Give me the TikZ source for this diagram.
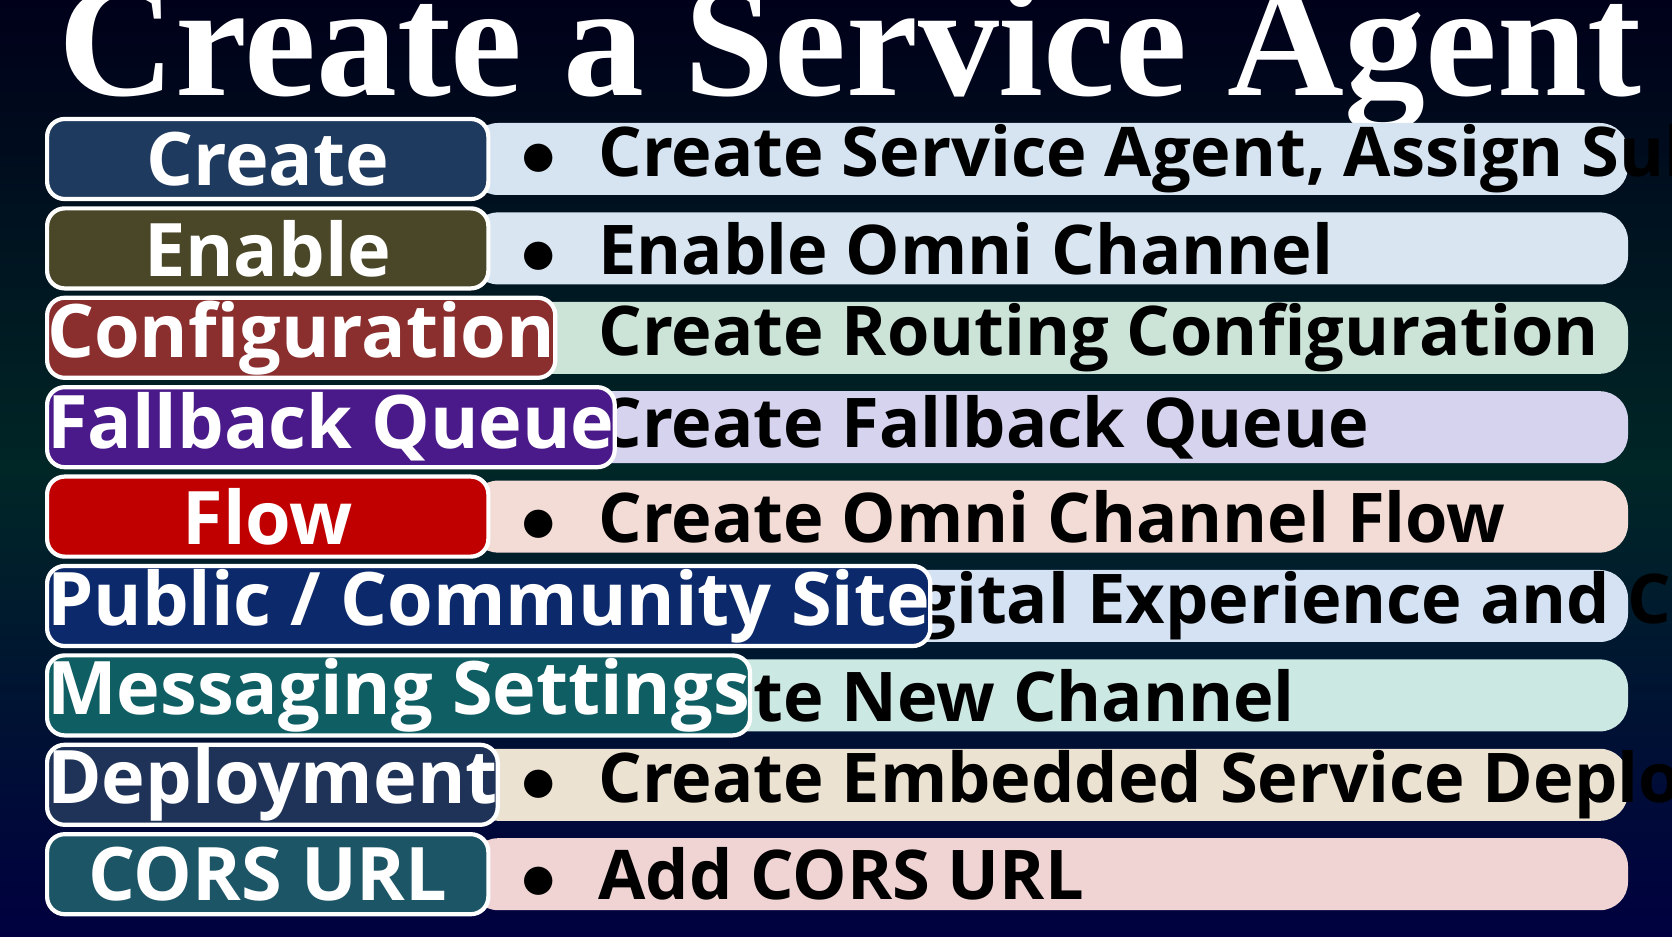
\documentclass[tikz,border=0pt]{standalone}
\usepackage{fontspec}
\setmainfont{Open Sans}
\newfontfamily\titlefont{Liberation Serif}
\begin{document}
\begin{tikzpicture}[x=0.01cm,y=-0.01cm,
  lab/.style={draw=white,line width=1.2pt,rounded corners=5pt,minimum width=4.41cm,minimum height=0.8cm,anchor=west,text=white,font=\fontsize{21}{24}\selectfont\bfseries,inner sep=0pt},
  desc/.style={anchor=west,text=black,font=\fontsize{19.5}{22}\selectfont\bfseries,inner sep=0pt,align=left}]
\shade[top color=black!90!blue,bottom color=blue!25!black,middle color=black!85!cyan] (0,0) rectangle (1672,937);
\useasboundingbox (0,0) rectangle (1672,937);
\node[font=\titlefont\fontsize{46}{50}\selectfont\bfseries,text=white] (title) at (850,57) {Create a Service Agent};
\foreach \i/\t/\d/\c/\l in {
 0/{Create}/{Create Service Agent, Assign Subagent, Actions, Add Connection - Messaging}/1F3A5F/D6E4F2,
 1/{Enable}/{Enable Omni Channel}/4A4628/D9E6F2,
 2/{Configuration}/{Create Routing Configuration}/8B2E2E/CCE4D8,
 3/{Fallback Queue}/{Create Fallback Queue}/4B1A8A/D6D3EE,
 4/{Flow}/{Create Omni Channel Flow}/C00000/F4DCD6,
 5/{Public / Community Site}/{Enable Digital Experience and Create Community Site}/0C2A6B/D4E2F4,
 6/{Messaging Settings}/{Create New Channel}/0F5E63/CCE8E3,
 7/{Deployment}/{Create Embedded Service Deployments}/1F3358/ECE2D2,
 8/{CORS URL}/{Add CORS URL}/1C5566/F0D4D4}{
 \definecolor{cl}{HTML}{\c}\definecolor{cr}{HTML}{\l}
 \pgfmathsetmacro{\y}{159+\i*89.4}
 \fill[cr,rounded corners=8pt] (470,\y-36) rectangle (1628,\y+36);
 \node[desc] (d\i) at (520,\y) {$\bullet$\hspace{0.6em}\d};
 \node[lab,fill=cl] (l\i) at (45,\y) {\t};
}
\end{tikzpicture}
\end{document}
